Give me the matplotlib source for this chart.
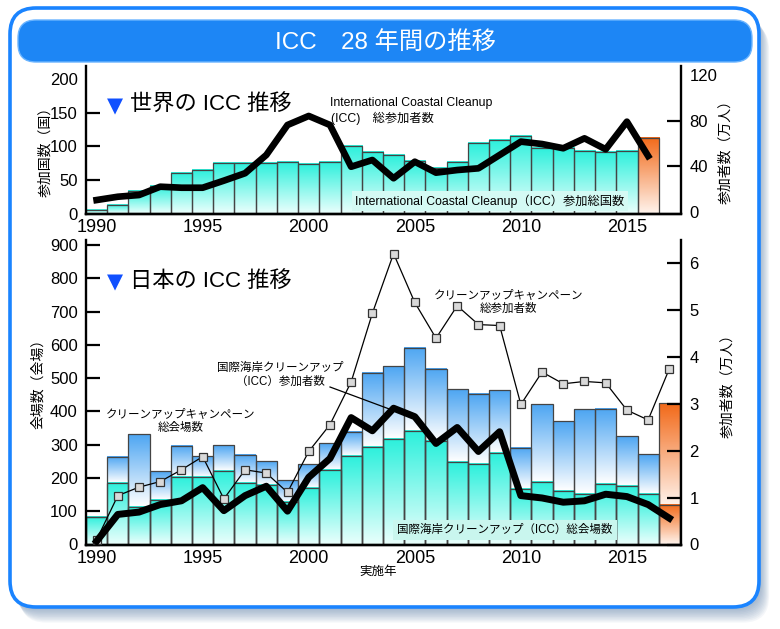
import numpy as np
import matplotlib
matplotlib.use("Agg")
import matplotlib.pyplot as plt
from matplotlib.patches import FancyBboxPatch
from matplotlib.colors import LinearSegmentedColormap

plt.rcParams['font.family'] = ['Liberation Sans', 'Noto Sans CJK JP']

# --- data ---
years_world = np.arange(1990, 2017)
world_countries = [5, 13, 33, 41, 61, 65, 75, 75, 76, 77, 74, 77, 100, 92, 88, 78, 68,
                   77, 105, 109, 115, 97, 98, 93, 92, 93, 113]
world_people = [10.5, 13.4, 14.9, 22.2, 21.3, 21.3, 27.5, 34, 50, 76.3, 84.2, 76.3, 39.7,
                45.6, 29.6, 44.1, 34.5, 36.8, 38.3, 50, 61.7, 59.6, 55.9, 64.6, 55, 79.2, 49.1]

years_japan = np.arange(1990, 2018)
campaign_sites = [84, 263, 333, 221, 297, 265, 300, 270, 250, 194, 241, 305, 338, 516,
                  536, 591, 528, 467, 452, 463, 290, 421, 372, 407, 407, 325, 272, 424]
icc_sites = [84, 184, 114, 134, 202, 202, 222, 184, 180, 129, 169, 224, 265, 293,
             317, 340, 310, 249, 241, 275, 166, 187, 162, 152, 181, 177, 152, 119]
campaign_people = [0.1, 1.04, 1.22, 1.34, 1.59, 1.87, 0.97, 1.59, 1.52, 1.11, 1.98, 2.55,
                   3.46, 4.92, 6.19, 5.15, 4.39, 5.08, 4.68, 4.66, 2.98, 3.67, 3.42, 3.47,
                   3.44, 2.86, 2.65, 3.74]
icc_people = [0.07, 0.64, 0.69, 0.85, 0.93, 1.21, 0.72, 1.04, 1.24, 0.71, 1.43, 1.83, 2.70,
              2.42, 2.90, 2.72, 2.15, 2.49, 1.98, 2.40, 1.04, 0.99, 0.90, 0.93, 1.07, 1.02,
              0.85, 0.56]

year_ticks = [1990, 1995, 2000, 2005, 2010, 2015]

cyan = LinearSegmentedColormap.from_list('cy', ['#e8fffc', '#2cf0dc'])
blue = LinearSegmentedColormap.from_list('bl', ['#ffffff', '#4ea6f2'])
orange = LinearSegmentedColormap.from_list('or', ['#fff2ea', '#f26a1a'])
grad = np.linspace(0, 1, 64).reshape(-1, 1)


def grad_bar(ax, x, y0, y1, cmap, z):
    if y1 <= y0:
        return
    ax.imshow(grad, extent=[x - 0.5, x + 0.5, y0, y1], origin='lower', aspect='auto',
              cmap=cmap, interpolation='bilinear', zorder=z)


def style_axes(ax, axr):
    for a in (ax, axr):
        a.set_facecolor('none')
        a.spines['top'].set_visible(False)
        for s in ('left', 'right', 'bottom'):
            a.spines[s].set_linewidth(1.7)
    ax.spines['right'].set_visible(False)
    axr.spines['left'].set_visible(False)
    ax.tick_params(axis='y', direction='in', length=10, width=1.6, labelsize=12, pad=6)
    axr.tick_params(axis='y', direction='in', length=10, width=1.6, labelsize=12, pad=6)
    ax.tick_params(axis='x', length=0, labelsize=13, pad=4)
    ax.set_xticks(year_ticks)
    ax.set_xlim(1989.5, 2017.55)


fig = plt.figure(figsize=(7.8, 6.29), dpi=100)

# background frame in pixel coordinates
bg = fig.add_axes([0, 0, 1, 1], zorder=-10)
bg.set_xlim(0, 780)
bg.set_ylim(629, 0)
bg.axis('off')
for i in range(10):
    bg.add_patch(FancyBboxPatch((12 + i * 0.9, 11 + i * 1.4), 749, 599,
                                boxstyle='round,pad=0,rounding_size=26',
                                fc='#4f74a0', ec='none', alpha=0.06))
bg.add_patch(FancyBboxPatch((10, 8), 749, 599, boxstyle='round,pad=0,rounding_size=26',
                            fc='white', ec='#1a84ff', lw=2.6))
bg.add_patch(FancyBboxPatch((18, 20), 734, 42, boxstyle='round,pad=0,rounding_size=18',
                            fc='#1d86f5', ec='#6ab4ff', lw=1))
bg.text(385, 42, 'ICC\u300028 年間の推移', color='white', fontsize=17.5,
        ha='center', va='center')

# ---- top chart: world ----
ax1 = fig.add_axes([86 / 780, 1 - 213.5 / 629, 595 / 780, 147.5 / 629])
ax1r = ax1.twinx()
for yr, v in zip(years_world, world_countries):
    cm = orange if yr == 2016 else cyan
    grad_bar(ax1, yr, 0, v, cm, 1)
ax1.bar(years_world, world_countries, width=1.0, fill=False, edgecolor='#444444',
        linewidth=0.9, zorder=2)
ax1r.plot(years_world, world_people, color='black', lw=4.8, zorder=3)
style_axes(ax1, ax1r)
ax1.set_ylim(0, 220)
ax1.set_yticks([0, 50, 100, 150, 200])
ax1r.set_ylim(-1.3, 128)
ax1r.set_yticks([0, 40, 80, 120])
for t, v in zip(ax1.yaxis.get_major_ticks(), [0, 50, 100, 150, 200]):
    if v in (0, 200):
        t.tick1line.set_visible(False)
for t, v in zip(ax1r.yaxis.get_major_ticks(), [0, 40, 80, 120]):
    if v in (0, 120):
        t.tick2line.set_visible(False)

# ---- bottom chart: Japan ----
ax2 = fig.add_axes([86 / 780, 1 - 544.5 / 629, 595 / 780, 304.5 / 629])
ax2r = ax2.twinx()
for yr, tot, icc in zip(years_japan, campaign_sites, icc_sites):
    if yr == 2017:
        grad_bar(ax2, yr, icc, tot, orange, 1)
        grad_bar(ax2, yr, 0, icc, orange, 1)
    else:
        grad_bar(ax2, yr, icc, tot, blue, 1)
        grad_bar(ax2, yr, 0, icc, cyan, 1)
ax2.bar(years_japan, campaign_sites, width=1.0, fill=False, edgecolor='#444444',
        linewidth=0.9, zorder=2)
ax2.bar(years_japan, icc_sites, width=1.0, fill=False, edgecolor='#444444',
        linewidth=0.9, zorder=2)
ax2r.plot(years_japan, campaign_people, color='black', lw=0.9, marker='s', markersize=6,
          markerfacecolor='#d9d9d9', markeredgecolor='#333333', markeredgewidth=0.9, zorder=3)
ax2r.plot(years_japan, icc_people, color='black', lw=5, zorder=4)
style_axes(ax2, ax2r)
ax2.set_ylim(0, 915)
ax2.set_yticks(range(0, 1000, 100))
ax2r.set_ylim(0, 6.48)
ax2r.set_yticks(range(0, 7))
ax2.set_xticks(year_ticks)

# ---- text overlay (pixel coordinates) ----
ov = fig.add_axes([0, 0, 1, 1], zorder=10)
ov.set_xlim(0, 780)
ov.set_ylim(629, 0)
ov.axis('off')

ov.text(107, 106, '\u25bc', color='#1050ff', fontsize=15, family='DejaVu Sans',
        ha='left', va='center')
ov.text(130, 105, '世界の ICC 推移', fontsize=16, ha='left', va='center')
ov.text(107, 282, '\u25bc', color='#1050ff', fontsize=15, family='DejaVu Sans',
        ha='left', va='center')
ov.text(130, 281, '日本の ICC 推移', fontsize=16, ha='left', va='center')

ov.text(330, 103, 'International Coastal Cleanup', fontsize=8.8, ha='left', va='center')
ov.text(331, 118, '(ICC)\u3000総参加者数', fontsize=8.8, ha='left', va='center')
ov.text(490, 201, 'International Coastal Cleanup（ICC）参加総国数', fontsize=8.8,
        ha='center', va='center',
        bbox=dict(boxstyle='square,pad=0.25', fc='#d4faf4', ec='none'))

ov.text(509, 296, 'クリーンアップキャンペーン', fontsize=8.3, ha='center', va='center')
ov.text(509, 309, '総参加者数', fontsize=8.3, ha='center', va='center')
ov.text(280, 368, '国際海岸クリーンアップ', fontsize=8.3, ha='center', va='center')
ov.text(280, 382, '（ICC）参加者数', fontsize=8.3, ha='center', va='center')
ov.plot([330, 392], [387, 410], color='black', lw=0.9)
ov.text(181, 415, 'クリーンアップキャンペーン', fontsize=8.3, ha='center', va='center')
ov.text(181, 428, '総会場数', fontsize=8.3, ha='center', va='center')
ov.text(505, 530, '国際海岸クリーンアップ（ICC）総会場数', fontsize=8.3,
        ha='center', va='center',
        bbox=dict(boxstyle='square,pad=0.35', fc='#c9f6ee', ec='none'))
ov.text(378, 572, '実施年', fontsize=9, ha='center', va='center')

ov.text(45, 148, '参加国数（国）', fontsize=10, rotation=90, ha='center', va='center')
ov.text(725, 148, '参加者数（万人）', fontsize=10, rotation=90, ha='center', va='center')
ov.text(38, 380, '会場数（会場）', fontsize=10, rotation=90, ha='center', va='center')
ov.text(727, 382, '参加者数（万人）', fontsize=10, rotation=90, ha='center', va='center')

fig.savefig('out.png', dpi=100)
